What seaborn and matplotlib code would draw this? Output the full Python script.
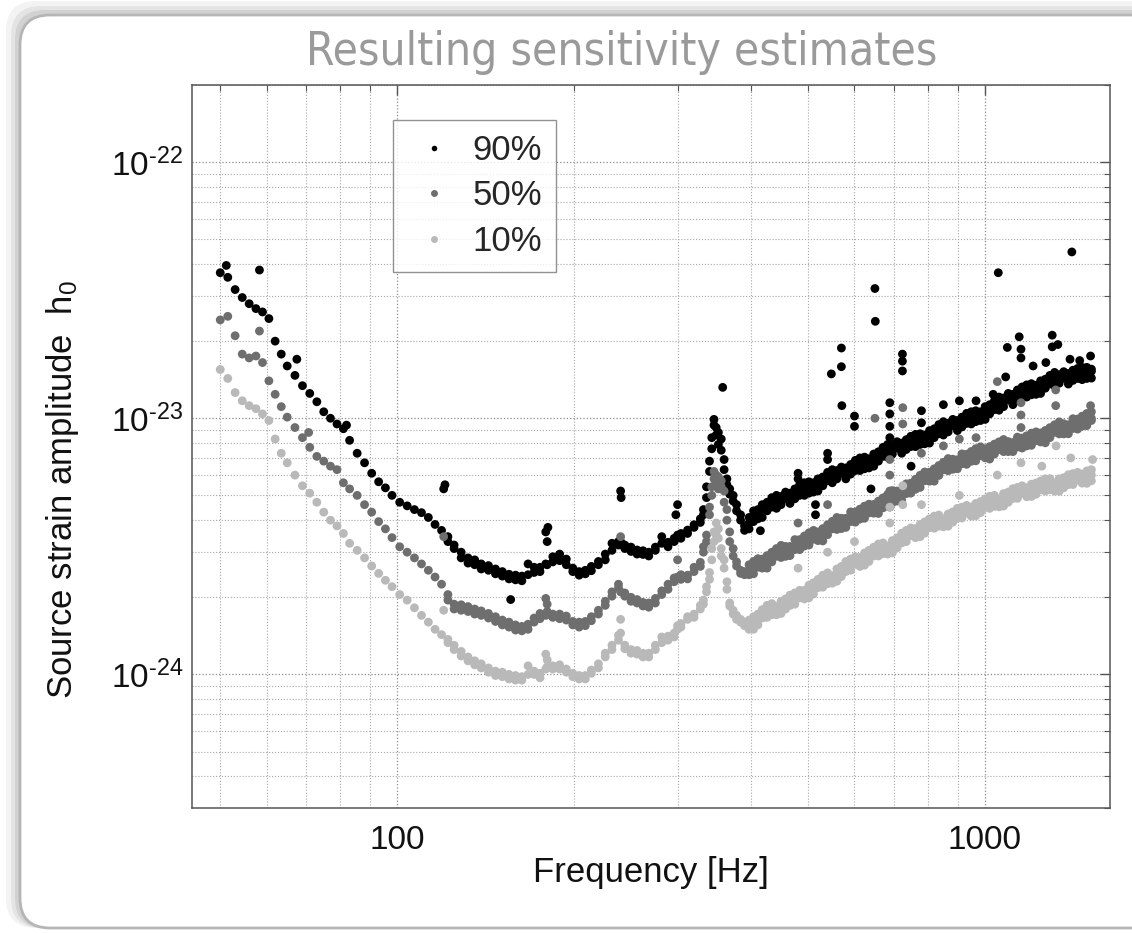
import matplotlib
matplotlib.use("Agg")
import matplotlib.pyplot as plt
from matplotlib.lines import Line2D
from matplotlib.patches import FancyBboxPatch
from matplotlib.ticker import LogLocator, NullFormatter
from matplotlib.transforms import IdentityTransform
import pandas as pd
import seaborn as sns

sns.set_style("white")
plt.rcParams["font.family"] = ["Liberation Sans", "DejaVu Sans"]
plt.rcParams["mathtext.fontset"] = "custom"
plt.rcParams["mathtext.rm"] = "Liberation Sans"
plt.rcParams["mathtext.it"] = "Liberation Sans:italic"

# ---- data (h0 in units of 1e-24) ----
levels = ["90%", "50%", "10%"]
colors = ["#000000", "#6e6e6e", "#b9b9b9"]
H_UNIT = 1e-24

freq_hz = [
    50, 51.5, 53, 54.5, 56, 57.5, 59, 60.5, 62, 63.5,
    65, 67, 69, 71, 73, 75, 77, 79, 81, 83,
    85.5, 88, 90.5, 93, 95.5, 98, 101, 104, 107, 110,
    113, 116, 119, 120, 122, 125, 128.5, 132, 135.5, 139,
    143, 147, 151, 155, 159, 163, 167, 171, 175, 179,
    180, 184, 189, 194, 199, 204, 209, 214, 220, 226,
    232, 238, 240, 244, 250, 256, 262, 268, 275, 282,
    289, 296, 300, 304, 312, 320, 328, 332, 336, 340,
    343, 346, 349, 352, 356, 360, 364, 368, 373, 378,
    384, 390,
    397, 404, 411, 418, 426, 434, 442, 450, 458, 466,
    475, 484, 493, 502, 511, 520, 530, 540, 550, 560,
    570, 580, 591, 602, 613, 624, 635, 647, 659, 671,
    683, 696, 709, 722, 735, 748, 762, 776, 790, 805,
    820, 835, 850, 866, 882, 898, 914, 931, 948, 965,
    983, 1001, 1019, 1038, 1057, 1076, 1096, 1116, 1136, 1157,
    1178, 1200, 1222, 1244, 1267, 1290, 1314, 1338, 1362, 1387,
    1412, 1438, 1464, 1491, 1518,
]

h0_90 = [
    37.0, 35.5, 31.8, 29.6, 28.0, 26.8, 26.0, 24.5, 20.0, 17.8,
    16.0, 14.7, 13.4, 12.5, 11.6, 10.6, 10.0, 9.5, 9.1, 8.2,
    7.3, 6.7, 6.1, 5.65, 5.35, 5.0, 4.7, 4.55, 4.4, 4.28,
    4.1, 3.85, 3.65, 5.3, 3.45, 3.2, 3.0, 2.72, 2.8, 2.58,
    2.66, 2.47, 2.52, 2.36, 2.44, 2.32, 2.7, 2.5, 2.62, 3.6,
    3.3, 2.75, 2.95, 2.82, 2.6, 2.44, 2.55, 2.54, 2.76, 2.8,
    3.25, 3.3, 5.2, 3.2, 3.14, 2.95, 3.04, 2.9, 3.14, 3.45,
    3.15, 3.4, 4.6, 3.4, 3.66, 3.84, 3.92, 4.2, 4.9, 6.2,
    7.6, 9.4, 9.2, 8.8, 8.3, 6.9, 5.8, 5.3, 5.0, 4.6,
    4.2, 3.8,
    4.1, 3.95, 4.4, 4.1, 4.7, 4.5, 5.0, 4.6, 4.85, 4.65,
    5.3, 5.0, 5.6, 5.1, 5.6, 5.2, 5.9, 5.7, 6.3, 5.8,
    6.1, 5.8, 6.6, 6.25, 7.0, 6.35, 6.95, 6.5, 7.4, 7.1,
    7.9, 7.25, 7.65, 7.3, 8.25, 7.75, 8.65, 7.9, 8.6, 8.0,
    9.1, 8.7, 9.7, 8.85, 9.35, 8.95, 10.1, 9.55, 10.6, 9.7,
    10.6, 9.9, 11.3, 10.8, 12.1, 11.1, 11.8, 11.3, 12.9, 12.1,
    13.5, 12.35, 13.45, 12.5, 14.2, 13.6, 15.1, 13.7, 14.35, 13.6,
    15.4, 14.3, 15.8, 14.3, 15.55,
]

h0_50 = [
    24.2, 25.0, 21.0, 17.8, 17.2, 17.5, 16.5, 14.0, 12.4, 11.1,
    10.1, 9.2, 8.4, 7.7, 7.1, 6.8, 6.5, 6.3, 5.6, 5.3,
    5.0, 4.6, 4.3, 3.95, 3.7, 3.42, 3.15, 3.0, 2.85, 2.7,
    2.55, 2.4, 2.25, 3.45, 2.05, 1.88, 1.87, 1.76, 1.8, 1.7,
    1.73, 1.61, 1.63, 1.53, 1.56, 1.48, 1.57, 1.6, 1.73, 1.98,
    1.88, 1.67, 1.72, 1.63, 1.61, 1.53, 1.61, 1.62, 1.78, 1.86,
    2.1, 2.18, 3.45, 2.02, 2.0, 1.9, 1.91, 1.83, 1.98, 2.05,
    2.25, 2.3, 2.8, 2.35, 2.44, 2.52, 2.74, 3.0, 3.5, 4.2,
    5.0, 6.2, 6.0, 5.9, 5.7, 5.2, 4.4, 3.6, 3.1, 2.75,
    2.55, 2.45,
    2.45, 2.76, 2.62, 2.82, 2.6, 3.0, 2.89, 3.19, 2.89, 3.16,
    3.07, 3.36, 3.17, 3.57, 3.37, 3.6, 3.32, 3.84, 3.7, 4.1,
    3.71, 4.07, 3.95, 4.31, 4.04, 4.54, 4.27, 4.61, 4.25, 4.89,
    4.7, 5.22, 4.75, 5.21, 5.08, 5.58, 5.28, 5.99, 5.7, 6.16,
    5.68, 6.54, 6.29, 6.96, 6.32, 6.89, 6.64, 7.24, 6.79, 7.61,
    7.15, 7.6, 6.93, 7.93, 7.55, 8.26, 7.41, 8.04, 7.72, 8.37,
    7.8, 8.75, 8.18, 8.76, 8.02, 9.19, 8.81, 9.68, 8.69, 9.44,
    9.12, 9.93, 9.31, 10.44, 9.8,
]

h0_10 = [
    15.5, 14.3, 12.6, 11.7, 11.2, 10.9, 10.4, 9.8, 8.3, 7.3,
    6.7, 6.0, 5.45, 5.1, 4.7, 4.3, 4.0, 3.8, 3.55, 3.25,
    3.05, 2.85, 2.65, 2.48, 2.33, 2.2, 2.05, 1.95, 1.82, 1.7,
    1.6, 1.5, 1.43, 1.78, 1.37, 1.3, 1.23, 1.13, 1.13, 1.06,
    1.06, 0.99, 1.02, 0.96, 0.99, 0.95, 1.08, 1.0, 1.01, 1.2,
    1.14, 1.05, 1.09, 1.02, 1.01, 0.96, 0.99, 1.01, 1.1, 1.17,
    1.3, 1.42, 1.64, 1.26, 1.25, 1.2, 1.21, 1.17, 1.3, 1.4,
    1.36, 1.45, 1.55, 1.58, 1.64, 1.72, 1.8, 1.95, 2.1, 2.35,
    2.8, 3.6, 3.9, 3.4, 3.1, 2.6, 2.15, 1.9, 1.78, 1.7,
    1.64, 1.55,
    1.63, 1.5, 1.72, 1.66, 1.86, 1.71, 1.84, 1.73, 1.97, 1.86,
    2.08, 1.99, 2.13, 1.99, 2.28, 2.18, 2.44, 2.26, 2.43, 2.31,
    2.64, 2.52, 2.82, 2.69, 2.86, 2.67, 3.05, 2.9, 3.23, 2.96,
    3.17, 2.98, 3.41, 3.26, 3.65, 3.48, 3.71, 3.45, 3.94, 3.74,
    4.15, 3.79, 4.05, 3.79, 4.31, 4.07, 4.5, 4.27, 4.5, 4.16,
    4.73, 4.48, 4.96, 4.53, 4.85, 4.54, 5.15, 4.86, 5.37, 5.09,
    5.36, 4.95, 5.59, 5.26, 5.8, 5.26, 5.59, 5.19, 5.86, 5.51,
    6.08, 5.74, 6.05, 5.57, 6.3,
]

# second reading across the bucket-shaped middle part, 122-390 Hz
freq_bucket_hz = freq_hz[34:92]

h0_90_bucket = [
    3.3, 3.1, 2.85, 2.85, 2.68, 2.7, 2.55, 2.58, 2.42, 2.46,
    2.34, 2.42, 2.45, 2.62, 2.52, 2.7, 2.68, 2.88, 2.78, 2.68,
    2.52, 2.52, 2.47, 2.64, 2.68, 2.95, 3.05, 3.2, 3.3, 3.1,
    3.02, 3.06, 2.94, 3.0, 3.05, 3.25, 3.28, 3.3, 3.5, 3.55,
    3.55, 3.75, 4.05, 4.4, 5.4, 6.8, 8.4, 9.9, 8.6, 7.9,
    7.5, 6.3, 5.5, 5.05, 4.75, 4.35, 4.0, 3.65,
]
h0_50_bucket = [
    1.95, 1.8, 1.78, 1.84, 1.72, 1.77, 1.66, 1.68, 1.56, 1.6,
    1.49, 1.54, 1.5, 1.66, 1.65, 1.7, 1.76, 1.72, 1.65, 1.69,
    1.56, 1.6, 1.55, 1.68, 1.72, 1.93, 2.02, 2.25, 2.1, 2.08,
    1.93, 1.96, 1.85, 1.9, 1.9, 2.12, 2.15, 2.38, 2.4, 2.45,
    2.36, 2.62, 2.64, 3.15, 3.3, 4.5, 5.4, 5.8, 5.6, 5.3,
    5.4, 4.7, 4.0, 3.3, 2.9, 2.65, 2.48, 2.52,
]
h0_10_bucket = [
    1.33, 1.25, 1.18, 1.17, 1.09, 1.1, 1.02, 1.03, 0.98, 1.0,
    0.95, 0.98, 1.0, 1.03, 0.97, 1.05, 1.07, 1.08, 1.05, 1.05,
    0.98, 0.99, 0.96, 1.04, 1.06, 1.21, 1.25, 1.36, 1.45, 1.3,
    1.21, 1.24, 1.17, 1.21, 1.25, 1.33, 1.41, 1.4, 1.5, 1.53,
    1.68, 1.67, 1.86, 1.88, 2.2, 2.5, 3.1, 3.3, 3.5, 3.7,
    2.9, 2.8, 2.3, 1.85, 1.72, 1.64, 1.6, 1.6,
]

# more readings inside the dense band above 395 Hz (same frequency bins):
# the band's middle and its opposite edge
freq_band_hz = freq_hz[92:]

h0_90_mid = [
    3.9, 4.15, 4.3, 4.42, 4.52, 4.6, 4.68, 4.77, 4.85, 4.95,
    5.05, 5.17, 5.28, 5.4, 5.49, 5.58, 5.68, 5.79, 5.9, 6.0,
    6.1, 6.2, 6.32, 6.45, 6.58, 6.7, 6.83, 6.97, 7.1, 7.25,
    7.4, 7.55, 7.66, 7.75, 7.88, 8.0, 8.15, 8.3, 8.45, 8.6,
    8.75, 8.9, 9.05, 9.2, 9.35, 9.5, 9.65, 9.85, 10.0, 10.2,
    10.4, 10.65, 10.85, 11.05, 11.3, 11.55, 11.8, 12.05, 12.3, 12.5,
    12.75, 13.0, 13.2, 13.45, 13.65, 13.85, 14.1, 14.25, 14.35, 14.5,
    14.65, 14.75, 14.9, 15.05, 15.25,
]
h0_90_edge = [
    3.7, 4.35, 4.05, 4.6, 4.35, 4.9, 4.45, 4.95, 5.15, 5.1,
    4.85, 5.5, 5.0, 5.65, 5.15, 5.8, 5.45, 6.15, 5.6, 6.25,
    6.45, 6.4, 6.05, 6.85, 6.25, 7.05, 6.4, 7.25, 6.8, 7.7,
    7.05, 7.85, 8.1, 8.0, 7.55, 8.5, 7.75, 8.7, 7.95, 8.95,
    8.4, 9.45, 8.6, 9.55, 9.9, 9.8, 9.25, 10.45, 9.5, 10.7,
    9.8, 11.1, 10.4, 11.7, 10.75, 12.0, 12.5, 12.4, 11.8, 13.25,
    12.1, 13.65, 12.4, 14.0, 13.1, 14.7, 13.4, 14.8, 15.2, 14.95,
    14.05, 15.65, 14.15, 15.8, 14.35,
]

h0_50_mid = [
    2.55, 2.6, 2.67, 2.74, 2.8, 2.86, 2.92, 2.98, 3.04, 3.1,
    3.17, 3.23, 3.3, 3.37, 3.44, 3.5, 3.57, 3.66, 3.74, 3.83,
    3.91, 3.99, 4.07, 4.14, 4.21, 4.28, 4.36, 4.48, 4.57, 4.66,
    4.75, 4.88, 5.0, 5.11, 5.24, 5.37, 5.5, 5.65, 5.82, 5.98,
    6.11, 6.23, 6.35, 6.5, 6.65, 6.75, 6.85, 6.96, 7.07, 7.18,
    7.3, 7.38, 7.45, 7.55, 7.63, 7.72, 7.8, 7.88, 7.96, 8.05,
    8.13, 8.25, 8.35, 8.5, 8.62, 8.75, 8.9, 9.05, 9.15, 9.25,
    9.4, 9.55, 9.7, 9.85, 10.0,
]
h0_50_edge = [
    2.68, 2.47, 2.83, 2.6, 2.91, 2.75, 3.1, 2.86, 3.16, 2.91,
    3.36, 3.07, 3.47, 3.2, 3.65, 3.33, 3.71, 3.51, 3.96, 3.68,
    4.07, 3.75, 4.31, 3.93, 4.42, 4.07, 4.62, 4.26, 4.75, 4.47,
    5.04, 4.68, 5.2, 4.8, 5.55, 5.1, 5.78, 5.37, 6.17, 5.68,
    6.35, 5.98, 6.73, 6.24, 6.92, 6.35, 7.26, 6.61, 7.42, 6.82,
    7.74, 7.01, 7.75, 7.25, 8.09, 7.41, 8.11, 7.41, 8.44, 7.65,
    8.54, 7.84, 8.85, 8.08, 8.96, 8.4, 9.43, 8.69, 9.52, 8.7,
    9.96, 9.07, 10.19, 9.36, 10.6,
]

h0_10_mid = [
    1.58, 1.6, 1.64, 1.69, 1.74, 1.78, 1.82, 1.86, 1.89, 1.92,
    1.96, 2.01, 2.07, 2.12, 2.17, 2.22, 2.28, 2.35, 2.41, 2.48,
    2.54, 2.6, 2.66, 2.72, 2.78, 2.84, 2.9, 2.96, 3.02, 3.08,
    3.14, 3.2, 3.28, 3.36, 3.44, 3.52, 3.6, 3.67, 3.75, 3.82,
    3.88, 3.95, 4.01, 4.07, 4.14, 4.2, 4.25, 4.31, 4.37, 4.43,
    4.5, 4.57, 4.64, 4.72, 4.8, 4.88, 4.95, 5.01, 5.07, 5.14,
    5.2, 5.27, 5.32, 5.37, 5.42, 5.48, 5.53, 5.58, 5.63, 5.68,
    5.74, 5.8, 5.87, 5.93, 6.0,
]
h0_10_edge = [
    1.5, 1.68, 1.56, 1.79, 1.67, 1.89, 1.71, 1.93, 1.8, 2.04,
    1.88, 2.13, 1.97, 2.23, 2.06, 2.35, 2.19, 2.49, 2.27, 2.58,
    2.41, 2.76, 2.55, 2.88, 2.64, 2.98, 2.76, 3.14, 2.9, 3.26,
    2.95, 3.33, 3.12, 3.56, 3.3, 3.73, 3.42, 3.85, 3.56, 4.05,
    3.72, 4.19, 3.77, 4.23, 3.93, 4.45, 4.08, 4.57, 4.15, 4.65,
    4.28, 4.84, 4.45, 5.0, 4.51, 5.08, 4.7, 5.31, 4.87, 5.45,
    4.94, 5.53, 5.05, 5.69, 5.2, 5.81, 5.2, 5.8, 5.35, 6.02,
    5.51, 6.15, 5.58, 6.23, 5.7,
]

# isolated points (lines / outliers) above each band
line_freq_90 = [51.2, 58.3, 67.5, 82, 120.6, 156, 180.5, 240.5, 298, 358,
                415, 481, 481, 515, 515, 540, 540, 548, 570, 570,
                571, 600, 600, 640, 650, 651, 689, 689, 689, 689,
                724, 724, 724, 749, 780, 780, 850, 905, 966, 1033,
                1054, 1092, 1144, 1152, 1152, 1208, 1302, 1302, 1331, 1396,
                1406, 1513, 1085, 1270, 1450]
line_h0_90 = [39.5, 37.9, 17.0, 9.4, 5.5, 1.96, 3.75, 4.9, 4.2, 13.2,
              3.64, 6.1, 5.8, 4.6, 4.2, 7.3, 6.9, 14.9, 18.8, 15.9,
              11.2, 10.2, 9.3, 5.3, 32.1, 23.9, 11.5, 10.4, 9.3, 8.4,
              17.8, 16.7, 15.3, 6.5, 10.7, 9.6, 11.3, 11.7, 11.7, 12.4,
              37.0, 18.9, 20.8, 18.6, 17.2, 16.0, 21.1, 19.0, 19.4, 17.0,
              44.6, 17.5, 14.5, 16.5, 16.8]

line_freq_50 = [58.3, 70.7, 481, 540, 650, 689, 689, 689, 689, 725,
                725, 780, 850, 905, 966, 1050, 1152, 1152, 1152, 1152,
                1320, 1320, 1513]
line_h0_50 = [21.9, 8.8, 3.9, 4.6, 10.0, 6.9, 6.0, 5.2, 4.5, 11.0,
              9.5, 7.3, 7.8, 8.3, 8.4, 13.9, 11.5, 10.3, 9.2, 8.0,
              12.9, 11.2, 11.2]

line_freq_10 = [481, 540, 600, 689, 689, 725, 725, 780, 905, 1050,
                1152, 1250, 1322, 1400, 1525]
line_h0_10 = [2.6, 3.0, 3.3, 4.5, 3.9, 5.45, 4.6, 4.6, 5.0, 6.0,
              6.7, 6.5, 7.8, 7.0, 6.9]

x_ticks = [100, 1000]
x_tick_labels = ["100", "1000"]
y_ticks = [1e-24, 1e-23, 1e-22]
y_tick_labels = ["$10^{\u201024}$", "$10^{\u201023}$", "$10^{\u201022}$"]

# ---- long table, drawn in the order 90 %, 50 %, 10 % ----
parts = []
for lev, h, hb, hm, he, lf, lh in [
    ("90%", h0_90, h0_90_bucket, h0_90_mid, h0_90_edge, line_freq_90, line_h0_90),
    ("50%", h0_50, h0_50_bucket, h0_50_mid, h0_50_edge, line_freq_50, line_h0_50),
    ("10%", h0_10, h0_10_bucket, h0_10_mid, h0_10_edge, line_freq_10, line_h0_10),
]:
    parts.append(pd.DataFrame({"freq": freq_hz, "h0": h, "level": lev}))
    parts.append(pd.DataFrame({"freq": freq_bucket_hz, "h0": hb, "level": lev}))
    parts.append(pd.DataFrame({"freq": freq_band_hz, "h0": hm, "level": lev}))
    parts.append(pd.DataFrame({"freq": freq_band_hz, "h0": he, "level": lev}))
    parts.append(pd.DataFrame({"freq": lf, "h0": lh, "level": lev}))
df = pd.concat(parts, ignore_index=True)
df["h0"] = df["h0"] * H_UNIT

# ---- figure ----
W, H = 1132, 933
fig = plt.figure(figsize=(W / 100, H / 100), dpi=100)
fig.patch.set_facecolor("white")

# slide frame with soft shadow (pixel coords)
for off, alpha in [(14, 0.10), (9, 0.14), (5, 0.20)]:
    fig.add_artist(FancyBboxPatch(
        (20 - off, 5), 1160, 913 + off,
        boxstyle="round,pad=0,rounding_size=30",
        transform=IdentityTransform(), facecolor="#8a8a8a",
        edgecolor="none", alpha=alpha, zorder=-12))
fig.add_artist(FancyBboxPatch(
    (20, 5), 1160, 913, boxstyle="round,pad=0,rounding_size=30",
    transform=IdentityTransform(), facecolor="white",
    edgecolor="#b5b5b5", linewidth=2, zorder=-10))

fig.text(0.5495, 0.944, "Resulting sensitivity estimates",
         ha="center", va="center", color="#9a9a9a", fontsize=33,
         family=["DejaVu Sans"], fontstretch="condensed")

ax = fig.add_axes([0.1693, 0.1336, 0.8113, 0.7753])
ax.set_facecolor("white")

sns.scatterplot(data=df, x="freq", y="h0", hue="level", hue_order=levels,
                palette=colors, s=40, linewidth=0, legend=False, ax=ax)

ax.set_xscale("log")
ax.set_yscale("log")
ax.set_xlim(44.7, 1633)
ax.set_ylim(3.0e-25, 2.0e-22)

ax.set_xticks(x_ticks)
ax.set_xticklabels(x_tick_labels)
ax.xaxis.set_minor_locator(LogLocator(base=10, subs=range(2, 10)))
ax.xaxis.set_minor_formatter(NullFormatter())
ax.set_yticks(y_ticks)
ax.set_yticklabels(y_tick_labels)
ax.yaxis.set_minor_locator(LogLocator(base=10, subs=range(2, 10)))
ax.yaxis.set_minor_formatter(NullFormatter())

ax.tick_params(which="both", direction="in", top=True, right=True,
               colors="#555555", labelcolor="#111111")
ax.tick_params(which="major", length=7, width=1, labelsize=24)
ax.tick_params(axis="x", which="major", pad=12)
ax.tick_params(axis="y", which="major", pad=6)
ax.tick_params(which="minor", length=4, width=0.8)

ax.grid(True, which="major", linestyle=":", color="#8a8a8a", linewidth=0.9)
ax.grid(True, which="minor", linestyle=":", color="#a8a8a8", linewidth=0.8)
for sp in ax.spines.values():
    sp.set_color("#555555")
    sp.set_linewidth(1.1)

ax.set_xlabel("Frequency [Hz]", fontsize=25, color="#111111", labelpad=0)
ax.set_ylabel("Source strain amplitude  h$_0$", fontsize=25, color="#111111")
ax.yaxis.set_label_coords(-0.12, 0.44)

handles = [Line2D([], [], marker="o", linestyle="", color=c, markeredgewidth=0,
                  markersize=ms) for c, ms in zip(colors, [4, 5, 5])]
leg = ax.legend(handles, levels, loc="upper left", bbox_to_anchor=(0.219, 0.9516),
                borderaxespad=0, frameon=True, fancybox=False, fontsize=25,
                handlelength=1.6, handletextpad=0.3, borderpad=0.4,
                labelspacing=0.36)
leg.get_frame().set_edgecolor("#777777")
leg.get_frame().set_linewidth(1.0)

fig.savefig("out.png", dpi=100)
